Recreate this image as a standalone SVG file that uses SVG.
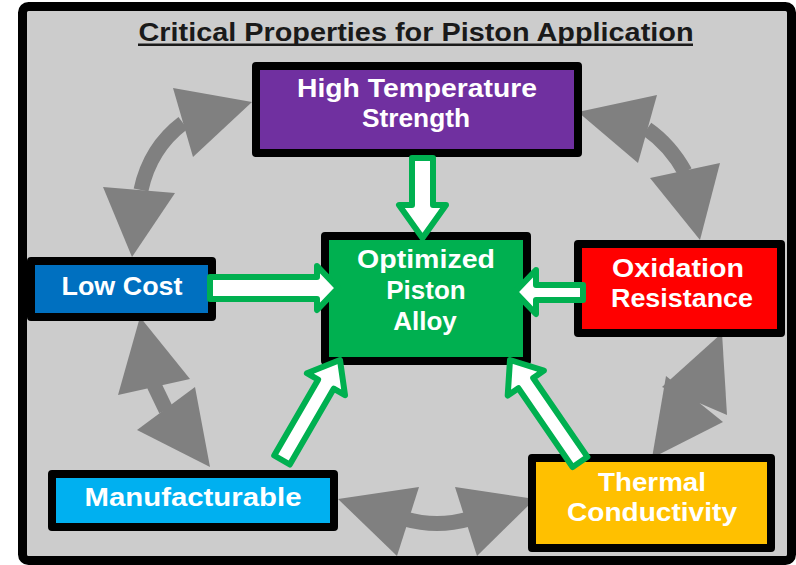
<svg xmlns="http://www.w3.org/2000/svg" width="796" height="565" viewBox="0 0 796 565">
<style>
.box{stroke:#000;stroke-width:8;stroke-linejoin:round}
.lbl{font-family:"Liberation Sans",Arial,sans-serif;font-weight:bold;font-size:26px;fill:#fff;text-anchor:middle}
.g{fill:#808080}
.gs{fill:none;stroke:#808080;stroke-width:15}
.ga{fill:#fff;stroke:#00B050;stroke-width:6;stroke-linejoin:round}
</style>
<rect x="22.5" y="6.5" width="769" height="554" rx="6" fill="#CCCCCC" stroke="#000" stroke-width="9"/>
<text x="416" y="41" font-family="Liberation Sans,Arial,sans-serif" font-size="25" fill="#1a1a1a" text-anchor="middle" textLength="555" lengthAdjust="spacingAndGlyphs" font-weight="bold">Critical Properties for Piston Application</text>
<rect x="138" y="43.5" width="555" height="2.5" fill="#1a1a1a"/>
<g id="cycle-connectors">
<path class="gs" d="M183,123 Q150,148 141,190"/>
<polygon class="g" points="252,102 173,88 193,157"/>
<polygon class="g" points="132,257 103,187 175,193"/>
<path class="gs" d="M647,129 Q670,145 685,172"/>
<polygon class="g" points="578,112 657,95 638,163"/>
<polygon class="g" points="700,240 650,178 720,163"/>
<path class="gs" stroke-width="14" d="M154,385 L166,410"/>
<polygon class="g" points="140,317 118,395 190,379"/>
<polygon class="g" points="210,467 137,430 195,387"/>
<path class="gs" d="M694,398 L690,405"/>
<polygon class="g" points="722,333 662,387 727,415"/>
<polygon class="g" points="652,458 666,376 723,422"/>
<path class="gs" stroke-width="14" d="M405,519 Q437,528 469,519"/>
<polygon class="g" points="338,499 419,487 397,556"/>
<polygon class="g" points="535,499 455,487 477,556"/>
</g>
<g id="high-temperature-strength">
<rect class="box" x="256" y="66" width="322" height="87" fill="#7030A0"/>
<text class="lbl" x="417" y="97" textLength="240" lengthAdjust="spacingAndGlyphs">High Temperature</text>
<text class="lbl" x="416" y="127" textLength="108" lengthAdjust="spacingAndGlyphs">Strength</text>
</g>
<g id="optimized-piston-alloy">
<rect class="box" x="325" y="236" width="202" height="125" fill="#00B050"/>
<text class="lbl" x="426" y="268" textLength="138" lengthAdjust="spacingAndGlyphs">Optimized</text>
<text class="lbl" x="426" y="299">Piston</text>
<text class="lbl" x="425" y="330">Alloy</text>
</g>
<g id="low-cost">
<rect class="box" x="31" y="261" width="181" height="56" fill="#0070C0"/>
<text class="lbl" x="122" y="295" textLength="121" lengthAdjust="spacingAndGlyphs">Low Cost</text>
</g>
<g id="oxidation-resistance">
<rect class="box" x="578" y="244" width="203" height="89" fill="#FF0000"/>
<text class="lbl" x="678" y="277" textLength="132" lengthAdjust="spacingAndGlyphs">Oxidation</text>
<text class="lbl" x="682" y="307" textLength="142" lengthAdjust="spacingAndGlyphs">Resistance</text>
</g>
<g id="manufacturable">
<rect class="box" x="52" y="474" width="282" height="53" fill="#00B0F0"/>
<text class="lbl" x="193" y="506" textLength="217" lengthAdjust="spacingAndGlyphs">Manufacturable</text>
</g>
<g id="thermal-conductivity">
<rect class="box" x="532" y="458" width="239" height="90" fill="#FFC000"/>
<text class="lbl" x="652" y="491" textLength="108" lengthAdjust="spacingAndGlyphs">Thermal</text>
<text class="lbl" x="652" y="521" textLength="170" lengthAdjust="spacingAndGlyphs">Conductivity</text>
</g>
<g id="input-connectors">
<polygon class="ga" points="412,158 433,158 433,205 446,205 422.5,238 399,205 412,205"/>
<polygon class="ga" points="210,277 317,277 317,266 338,288 317,310 317,299 210,299"/>
<polygon class="ga" points="583,285 536,285 536,270 515,292 536,314 536,300 583,300"/>
<polygon class="ga" points="274.2,455.5 318.1,379.7 306.9,373.2 340,360 345,395.2 333.7,388.7 289.8,464.5"/>
<polygon class="ga" points="572.6,467.1 518.4,388.2 507.7,395.6 510,360 543.9,370.6 533.2,378 587.4,456.9"/>
</g>
</svg>
